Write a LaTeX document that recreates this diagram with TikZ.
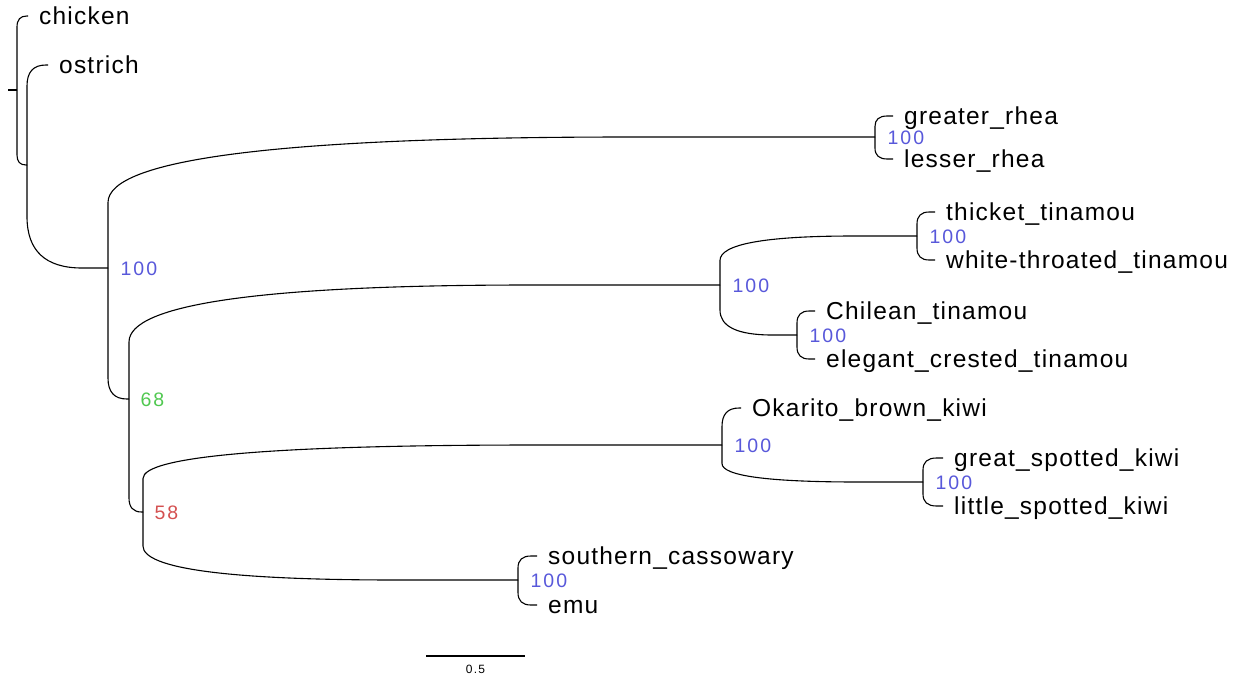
\documentclass[tikz,border=0pt]{standalone}
\usepackage{fontspec}
\setmainfont{Liberation Sans}
\newfontfamily\taxonfont[LetterSpace=5]{Liberation Sans}
\newfontfamily\supportfont[LetterSpace=10]{Liberation Sans}
\usetikzlibrary{calc}
\definecolor{bsblue}{RGB}{88,88,218}
\definecolor{bsgreen}{RGB}{80,200,80}
\definecolor{bsred}{RGB}{212,80,80}

\tikzset{
  % curved phylogram branch: vertical run from the parent, a quadratic bend,
  % then a horizontal run to the child
  branch/.style={to path={
    let \p1=(\tikztostart), \p2=(\tikztotarget),
        \n1={abs(\y1-\y2)}, \n2={\x2-\x1},
        \n3={min(0.5*\n1,\n2)},
        \n4={min(0.9*\n2,max(\n3,0.68*\n2))},
        \n5={\n3/\n1}
    in -- (\x1,{\y2+(\y1-\y2)*\n5})
       .. controls (\x1,{\y2+(\y1-\y2)*\n5/3}) and ({\x1+\n4*1pt/3},\y2)
       .. ({\x1+\n4*1pt},\y2) -- (\p2)}},
  tree/.style={line width=1.1pt, black},
  taxon/.style={anchor=base west, inner sep=0pt,
    font=\taxonfont\fontsize{24.5}{28}\selectfont},
  support/.style={anchor=base west, inner sep=0pt,
    font=\supportfont\fontsize{19.5}{22}\selectfont},
  scalelabel/.style={anchor=base, inner sep=0pt,
    font=\supportfont\fontsize{12}{14}\selectfont}
}

\begin{document}
\begin{tikzpicture}[x=1pt,y=-1pt]
\useasboundingbox (0,0) rectangle (1242,678);

% internal nodes
\coordinate (stub) at (8,90);
\coordinate (root) at (17,90);
\coordinate (ingroup) at (27,165);
\coordinate (ratites) at (108,268);
\coordinate (rheas) at (875,137);
\coordinate (n68) at (129,399);
\coordinate (tinamous) at (720,285);
\coordinate (thicketpair) at (917,236);
\coordinate (chileanpair) at (797,335);
\coordinate (n58) at (143,512);
\coordinate (kiwis) at (722,445);
\coordinate (spotted) at (923,482);
\coordinate (casspair) at (518,580);

% tips
\coordinate (chicken) at (28,16);
\coordinate (ostrich) at (48,65);
\coordinate (greaterrhea) at (893,116);
\coordinate (lesserrhea) at (893,159);
\coordinate (thicket) at (935,212);
\coordinate (whitethroated) at (935,260);
\coordinate (chilean) at (815,311);
\coordinate (elegant) at (815,359);
\coordinate (okarito) at (741,408);
\coordinate (greatspotted) at (943,458);
\coordinate (littlespotted) at (943,506);
\coordinate (southerncass) at (537,556);
\coordinate (emu) at (537,605);

% branches
\draw[tree] (stub) -- (root);
\draw[tree] (root) to[branch] (chicken);
\draw[tree] (root) to[branch] (ingroup);
\draw[tree] (ingroup) to[branch] (ostrich);
\draw[tree] (ingroup) to[branch] (ratites);
\draw[tree] (ratites) to[branch] (rheas);
\draw[tree] (ratites) to[branch] (n68);
\draw[tree] (rheas) to[branch] (greaterrhea);
\draw[tree] (rheas) to[branch] (lesserrhea);
\draw[tree] (n68) to[branch] (tinamous);
\draw[tree] (n68) to[branch] (n58);
\draw[tree] (tinamous) to[branch] (thicketpair);
\draw[tree] (tinamous) to[branch] (chileanpair);
\draw[tree] (thicketpair) to[branch] (thicket);
\draw[tree] (thicketpair) to[branch] (whitethroated);
\draw[tree] (chileanpair) to[branch] (chilean);
\draw[tree] (chileanpair) to[branch] (elegant);
\draw[tree] (n58) to[branch] (kiwis);
\draw[tree] (n58) to[branch] (casspair);
\draw[tree] (kiwis) to[branch] (okarito);
\draw[tree] (kiwis) to[branch] (spotted);
\draw[tree] (spotted) to[branch] (greatspotted);
\draw[tree] (spotted) to[branch] (littlespotted);
\draw[tree] (casspair) to[branch] (southerncass);
\draw[tree] (casspair) to[branch] (emu);

% taxon names
\node[taxon] (t1) at ($(chicken)+(11,8.5)$) {chicken};
\node[taxon] (t2) at ($(ostrich)+(11,8.5)$) {ostrich};
\node[taxon] (t3) at ($(greaterrhea)+(11,8.5)$) {greater\_rhea};
\node[taxon] (t4) at ($(lesserrhea)+(11,8.5)$) {lesser\_rhea};
\node[taxon] (t5) at ($(thicket)+(11,8.5)$) {thicket\_tinamou};
\node[taxon] (t6) at ($(whitethroated)+(11,8.5)$) {white-throated\_tinamou};
\node[taxon] (t7) at ($(chilean)+(11,8.5)$) {Chilean\_tinamou};
\node[taxon] (t8) at ($(elegant)+(11,8.5)$) {elegant\_crested\_tinamou};
\node[taxon] (t9) at ($(okarito)+(11,8.5)$) {Okarito\_brown\_kiwi};
\node[taxon] (t10) at ($(greatspotted)+(11,8.5)$) {great\_spotted\_kiwi};
\node[taxon] (t11) at ($(littlespotted)+(11,8.5)$) {little\_spotted\_kiwi};
\node[taxon] (t12) at ($(southerncass)+(11,8.5)$) {southern\_cassowary};
\node[taxon] (t13) at ($(emu)+(11,8.5)$) {emu};

% bootstrap support
\node[support, text=bsblue] (s1) at ($(ratites)+(12.5,7.5)$) {100};
\node[support, text=bsblue] (s2) at ($(rheas)+(12.5,7.5)$) {100};
\node[support, text=bsgreen] (s3) at ($(n68)+(11.5,7.5)$) {68};
\node[support, text=bsblue] (s4) at ($(tinamous)+(12.5,7.5)$) {100};
\node[support, text=bsblue] (s5) at ($(thicketpair)+(12.5,7.5)$) {100};
\node[support, text=bsblue] (s6) at ($(chileanpair)+(12.5,7.5)$) {100};
\node[support, text=bsred] (s7) at ($(n58)+(11.5,7.5)$) {58};
\node[support, text=bsblue] (s8) at ($(kiwis)+(12.5,7.5)$) {100};
\node[support, text=bsblue] (s9) at ($(spotted)+(12.5,7.5)$) {100};
\node[support, text=bsblue] (s10) at ($(casspair)+(12.5,7.5)$) {100};

% scale bar
\coordinate (sbl) at (426,656);
\coordinate (sbr) at (525,656);
\draw[line width=1.1pt] (sbl) -- (sbr);
\node[scalelabel] (sbt) at (475.5,673) {0.5};
\end{tikzpicture}
\end{document}
